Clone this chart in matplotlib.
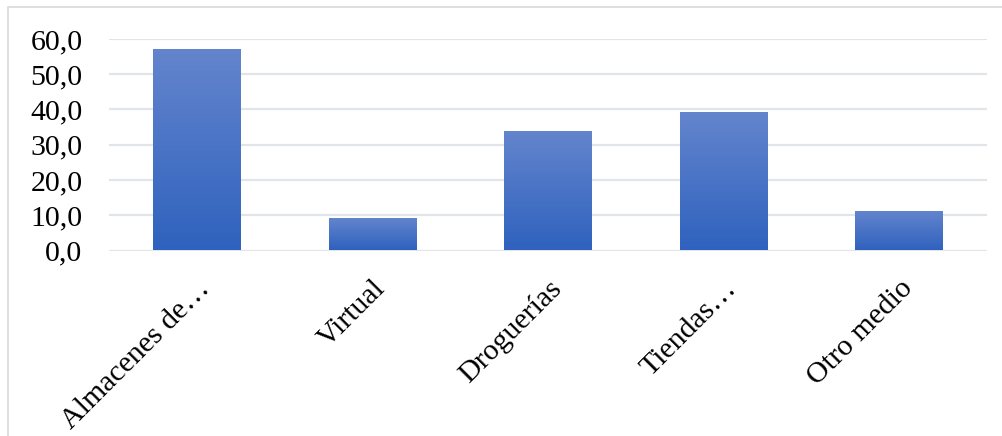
import matplotlib.pyplot as plt
import numpy as np
from matplotlib.colors import LinearSegmentedColormap
from matplotlib.patches import Rectangle

# Canales de compra (%)
categorias = ['Almacenes de…', 'Virtual', 'Droguerías', 'Tiendas…', 'Otro medio']
porcentajes = [57.2, 9.3, 33.9, 39.3, 11.2]
ticks_y = [0, 10, 20, 30, 40, 50, 60]

plt.rcParams['font.family'] = ['Liberation Serif', 'DejaVu Serif']

fig = plt.figure(figsize=(10.03, 4.36), dpi=100)
ax = fig.add_axes([109 / 1003, 185.5 / 436, 878 / 1003, 211.5 / 436])

# marco exterior gris claro
fig.patches.append(Rectangle((8 / 1003, -0.05), 1.0, (436 - 7) / 436 + 0.05,
                             transform=fig.transFigure, fill=False,
                             edgecolor='#d9d9d9', linewidth=1.2, zorder=0))

x = np.arange(len(categorias))
barras = ax.bar(x, porcentajes, width=0.5, color='none', edgecolor='none', zorder=3)

# relleno degradado en cada barra (claro arriba, oscuro abajo)
degradado = LinearSegmentedColormap.from_list('azul', ['#2f62be', '#6485cd'])
grad = np.linspace(0, 1, 256).reshape(-1, 1)
for b in barras:
    x0, w, h = b.get_x(), b.get_width(), b.get_height()
    im = ax.imshow(grad, cmap=degradado, origin='lower', aspect='auto',
                   extent=[x0, x0 + w, 0, h], zorder=3)
    im.set_clip_path(b)

ax.set_xlim(-0.5, len(categorias) - 0.5)
ax.set_ylim(0, 60)
ax.set_yticks(ticks_y)
ax.set_yticklabels([f'{v:.1f}'.replace('.', ',') for v in ticks_y], fontsize=21.5)
ax.grid(axis='y', color='#e1e4e8', linewidth=1.6, zorder=0)
ax.set_axisbelow(True)
for s in ax.spines.values():
    s.set_visible(False)
ax.tick_params(axis='y', length=0, pad=19)
ax.tick_params(axis='x', length=0, pad=18)

ax.set_xticks(x)
ax.set_xticklabels(categorias, fontsize=21.5, rotation=45, ha='right',
                   rotation_mode='anchor')

fig.savefig('out.png', dpi=100)
